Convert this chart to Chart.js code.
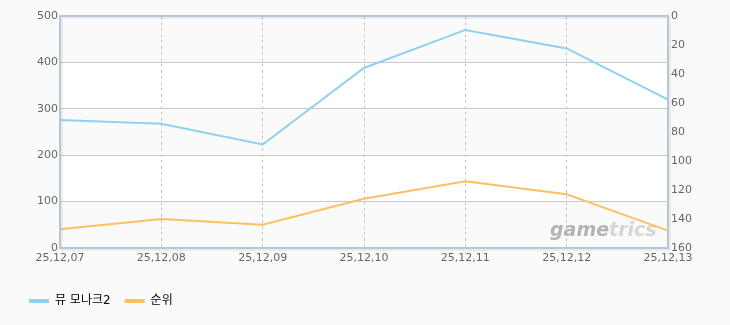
<!DOCTYPE html>
<html>
<head>
<meta charset="utf-8">
<script src="https://cdn.jsdelivr.net/npm/chart.js@4/dist/chart.umd.min.js"></script>
<style>
html,body{margin:0;padding:0;background:#fafafa;}
#wrap{width:730px;height:325px;position:relative;}
</style>
</head>
<body>
<div id="wrap"><canvas id="c" width="730" height="325"></canvas></div>
<script>
const categories = ['25,12,07','25,12,08','25,12,09','25,12,10','25,12,11','25,12,12','25,12,13'];
const monarchValues = [276, 268, 223, 388, 470, 430, 320];
const rankValues = [147, 140, 144, 126, 114, 123, 148];
const seriesNames = ['뮤 모나크2', '순위'];
const leftAxis = {min: 0, max: 500, step: 100};
const rightAxis = {min: 0, max: 160, step: 20};

const FONT = '"DejaVu Sans", "Noto Sans CJK KR", sans-serif';

const bgPlugin = {
  id: 'bg',
  beforeDraw(chart) {
    const ctx = chart.ctx;
    ctx.save();
    ctx.fillStyle = '#fafafa';
    ctx.fillRect(0, 0, chart.width, chart.height);
    const y = chart.scales.y;
    const a = chart.chartArea;
    for (let v = leftAxis.min; v < leftAxis.max; v += leftAxis.step) {
      const i = Math.round((v - leftAxis.min) / leftAxis.step);
      const top = y.getPixelForValue(v + leftAxis.step);
      const bot = y.getPixelForValue(v);
      ctx.fillStyle = (i % 2 === 0) ? '#fafafa' : '#ffffff';
      ctx.fillRect(a.left, top, a.right - a.left, bot - top);
    }
    ctx.restore();
  },
  beforeDatasetsDraw(chart) {
    const ctx = chart.ctx;
    const a = chart.chartArea;
    ctx.save();
    ctx.font = 'italic bold 19px ' + FONT;
    ctx.textBaseline = 'alphabetic';
    ctx.textAlign = 'left';
    const x0 = a.right - 118;
    const yb = a.bottom - 12;
    ctx.fillStyle = '#b4b4b4';
    ctx.fillText('game', x0, yb);
    const w = ctx.measureText('game').width;
    ctx.fillStyle = '#d6d6d6';
    ctx.fillText('trics', x0 + w, yb);
    ctx.restore();
  },
  afterDatasetsDraw(chart) {
    const ctx = chart.ctx;
    const a = chart.chartArea;
    ctx.save();
    ctx.strokeStyle = 'rgba(0,0,0,0.06)';
    ctx.lineWidth = 2;
    ctx.strokeRect(a.left + 2, a.top + 2, a.right - a.left, a.bottom - a.top);
    ctx.strokeStyle = '#b6c7d9';
    ctx.lineWidth = 2;
    ctx.strokeRect(a.left, a.top, a.right - a.left, a.bottom - a.top);
    ctx.restore();
  }
};

new Chart(document.getElementById('c'), {
  type: 'line',
  data: {
    labels: categories,
    datasets: [
      {label: seriesNames[0], data: monarchValues, yAxisID: 'y', borderColor: '#8ed1f2', backgroundColor: '#8ed1f2', borderWidth: 2, pointRadius: 0, tension: 0, order: 1},
      {label: seriesNames[1], data: rankValues, yAxisID: 'y1', borderColor: '#fec064', backgroundColor: '#fec064', borderWidth: 2, pointRadius: 0, tension: 0, order: 2}
    ]
  },
  options: {
    responsive: false,
    animation: false,
    events: [],
    layout: {padding: {top: 16, left: 15, right: 0, bottom: 8}},
    plugins: {
      tooltip: {enabled: false},
      legend: {
        position: 'bottom',
        align: 'start',
        labels: {
          boxWidth: 20, boxHeight: 4, padding: 14,
          color: '#555', font: {family: FONT, size: 12},
          generateLabels(chart) {
            return chart.data.datasets.map((d, i) => ({
              text: d.label, fillStyle: d.borderColor, strokeStyle: d.borderColor, lineWidth: 0, datasetIndex: i, hidden: false
            }));
          }
        }
      }
    },
    scales: {
      x: {
        offset: false,
        grid: {
          color: (c) => (c.index === 0 || c.index === categories.length - 1) ? 'rgba(0,0,0,0)' : '#c8c8c8',
          drawTicks: false, lineWidth: 1
        },
        border: {display: false, dash: [3, 3]},
        ticks: {color: '#666', font: {family: FONT, size: 11}, padding: 4, maxRotation: 0, autoSkip: false},
        afterFit(s) { s.height = 33; }
      },
      y: {
        position: 'left', min: leftAxis.min, max: leftAxis.max,
        grid: {color: '#c8c8c8', drawTicks: false, lineWidth: 1},
        border: {display: false},
        ticks: {stepSize: leftAxis.step, color: '#666', font: {family: FONT, size: 11}, padding: 2},
        afterFit(s) { s.width = 45; }
      },
      y1: {
        position: 'right', reverse: true, min: rightAxis.min, max: rightAxis.max,
        grid: {drawOnChartArea: false, drawTicks: false},
        border: {display: false},
        ticks: {stepSize: rightAxis.step, color: '#666', font: {family: FONT, size: 11}, padding: 3},
        afterFit(s) { s.width = 62; }
      }
    }
  },
  plugins: [bgPlugin]
});
</script>
</body>
</html>
